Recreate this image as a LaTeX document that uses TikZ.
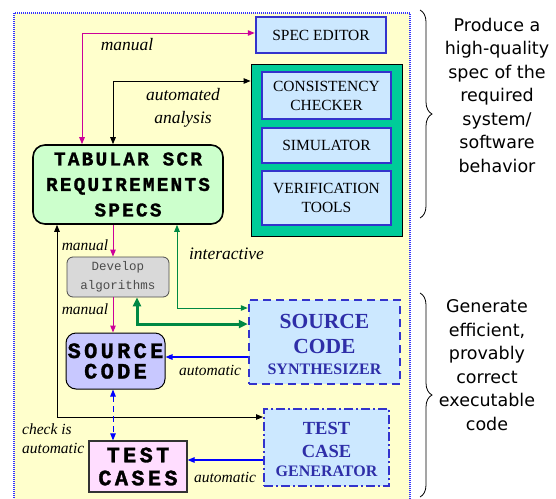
\documentclass[tikz,border=0pt]{standalone}
\usepackage{fontspec}
\setmainfont{Liberation Serif}
\newfontfamily\tabfont{Liberation Mono Bold}[LetterSpace=11, FakeBold=1.2]
\newfontfamily\srcfont{Liberation Mono Bold}[LetterSpace=15, FakeBold=1.4]
\newfontfamily\devfont{Liberation Mono}
\newfontfamily\comic{DejaVu Sans}
\usetikzlibrary{arrows.meta,decorations.pathreplacing}
\definecolor{bgyellow}{HTML}{FFFFCC}
\definecolor{dotblue}{HTML}{3333FF}
\definecolor{boxblue}{HTML}{3333CC}
\definecolor{boxfill}{HTML}{CCE8FF}
\definecolor{toolgreen}{HTML}{00CC99}
\definecolor{tabfill}{HTML}{CCFFCC}
\definecolor{devfill}{HTML}{D9D9D9}
\definecolor{srcfill}{HTML}{C8C8FF}
\definecolor{testfill}{HTML}{FFDDFF}
\definecolor{magarr}{HTML}{CC0099}
\definecolor{grnarr}{HTML}{008844}
\definecolor{bluarr}{HTML}{0000FF}
\definecolor{syntxt}{HTML}{2E2EA8}
\tikzset{
  bluebox/.style={draw=boxblue, line width=2.5pt, fill=boxfill, inner sep=0pt, align=center, font=\fontsize{15.5}{19}\selectfont},
  tip/.style={-{Triangle[length=7pt,width=5.5pt]}},
  tips/.style={{Triangle[length=7pt,width=5.5pt]}-{Triangle[length=7pt,width=5.5pt]}},
  thicktips/.style={{Triangle[length=9pt,width=8pt]}-{Triangle[length=9pt,width=8pt]}},
  lbl/.style={font=\itshape\fontsize{17.5}{21}\selectfont, inner sep=0pt},
  slbl/.style={font=\itshape\fontsize{15.5}{19}\selectfont, inner sep=0pt},
  syn/.style={text=syntxt, font=\bfseries, anchor=base, inner sep=0pt},
  side/.style={font=\comic\fontsize{17.5}{23.5}\selectfont, align=center, inner sep=0pt},
}
\begin{document}
\begin{tikzpicture}[x=1pt,y=-1pt]
\useasboundingbox (0,0) rectangle (556,498);
% outer frame
\path[fill=bgyellow] (14,13) rectangle (410,505);
\draw[dotblue, line width=1.5pt, dash pattern=on 1pt off 1pt] (14,13) rectangle (410,505);

% boxes
\node[bluebox, minimum width=130pt, minimum height=36pt] (spec) at (321,35) {SPEC EDITOR};
\node[draw=black, line width=0.8pt, fill=toolgreen, minimum width=151pt, minimum height=172pt, inner sep=0pt] (tools) at (326.5,150) {};
\node[bluebox, minimum width=129pt, minimum height=47pt] (cc) at (326.5,95.5) {CONSISTENCY\\CHECKER};
\node[bluebox, minimum width=129pt, minimum height=35pt] (sim) at (326.5,145.5) {SIMULATOR};
\node[bluebox, minimum width=129pt, minimum height=54pt] (ver) at (326.5,198) {VERIFICATION\\TOOLS};

\node[draw=black, line width=1.6pt, fill=tabfill, rounded corners=12pt, minimum width=190pt, minimum height=79pt, inner sep=0pt, align=center, font=\tabfont\fontsize{19.5}{25.5}\selectfont] (tab) at (128,184.5) {TABULAR SCR\\REQUIREMENTS\\SPECS};

\node[draw=black!70, line width=0.8pt, fill=devfill, rounded corners=6pt, minimum width=102pt, minimum height=40pt, inner sep=0pt, align=center, text=black!70, font=\devfont\fontsize{12.5}{19}\selectfont] (dev) at (118,277) {Develop\\algorithms};

\node[draw=black, line width=1pt, fill=srcfill, rounded corners=10pt, minimum width=99pt, minimum height=56pt, inner sep=0pt, align=center, font=\srcfont\fontsize{22}{20.5}\selectfont] (src) at (115.5,361) {SOURCE\\CODE};

\node[draw=black!80, line width=1.2pt, fill=testfill, minimum width=98pt, minimum height=51pt, inner sep=0pt, align=center, font=\srcfont\fontsize{22}{23}\selectfont] (test) at (138,466.5) {TEST\\CASES};

\node[draw=boxblue, line width=2.5pt, dash pattern=on 8pt off 5pt, fill=boxfill, minimum width=151pt, minimum height=84pt, inner sep=0pt] (synth) at (324.5,342) {};
\node[syn, font=\bfseries\fontsize{21.5}{25}\selectfont] (syn1) at (324.5,328) {SOURCE};
\node[syn, font=\bfseries\fontsize{21.5}{25}\selectfont] (syn2) at (324.5,353) {CODE};
\node[syn, font=\bfseries\fontsize{16}{19}\selectfont] (syn3) at (324.5,374) {SYNTHESIZER};

\node[draw=boxblue, line width=2pt, dash pattern=on 9pt off 3pt on 2pt off 3pt, fill=boxfill, minimum width=125pt, minimum height=77pt, inner sep=0pt] (gen) at (326.5,447.5) {};
\node[syn, font=\bfseries\fontsize{18.5}{22}\selectfont] (gen1) at (326.5,434) {TEST};
\node[syn, font=\bfseries\fontsize{18.5}{22}\selectfont] (gen2) at (326.5,457) {CASE};
\node[syn, font=\bfseries\fontsize{16}{19}\selectfont] (gen3) at (326.5,476) {GENERATOR};

% helper coordinates
\coordinate (m1) at (82,33);
\coordinate (a1) at (113,81);
\coordinate (b1) at (57,417);
\coordinate (mx) at (113,0);
\coordinate (g1) at (177,308);
\coordinate (g2) at (137,324);
\coordinate (s1) at (0,357);
\coordinate (t1) at (0,460);

% connectors
\draw[magarr, line width=1pt, tips] (tab.north -| m1) -- (m1) -- (m1 -| spec.west);
\draw[black, line width=1pt, tips] (tab.north -| a1) -- (a1) -- (a1 -| tools.west);
\draw[black, line width=1pt, tips] (tab.south -| b1) -- (b1) -- (b1 -| gen.west);
\draw[magarr, line width=1pt, tip] (tab.south -| mx) -- (dev.north -| mx);
\draw[magarr, line width=1pt, tip] (dev.south -| mx) -- (src.north -| mx);
\draw[grnarr, line width=1pt, tips] (tab.south -| g1) -- (g1) -- (g1 -| synth.west);
\draw[grnarr, line width=3pt, thicktips] (dev.south -| g2) -- (g2) -- (g2 -| synth.west);
\draw[bluarr, line width=1.2pt, tip] (synth.west |- s1) -- (src.east |- s1);
\draw[bluarr, line width=1pt, tips, dash pattern=on 6pt off 4pt] (src.south -| mx) -- (test.north -| mx);
\draw[bluarr, line width=1.2pt, tip] (gen.west |- t1) -- (test.east |- t1);

% labels
\node[lbl] (l1) at (127,45) {manual};
\node[lbl, align=center, font=\itshape\fontsize{17.5}{22.5}\selectfont] (l2) at (183,108) {automated\\analysis};
\node[slbl] (l3) at (85,245) {manual};
\node[slbl] (l4) at (85,309) {manual};
\node[lbl] (l5) at (226.5,254) {interactive};
\node[slbl] (l6) at (210,370) {automatic};
\node[slbl, align=left, anchor=west, font=\itshape\fontsize{15.5}{19.5}\selectfont] (l7) at (22,438.5) {check is\\automatic};
\node[slbl] (l8) at (225,477) {automatic};

% braces
\draw[black, line width=0.8pt, decorate, decoration={brace, amplitude=12pt}] (420,10) -- (420,218);
\draw[black, line width=0.8pt, decorate, decoration={brace, amplitude=12pt}] (420,293) -- (420,497);

\node[side] (t1txt) at (497,95) {Produce a\\high-quality\\spec of the\\required\\system/\\software\\behavior};
\node[side] (t2txt) at (487,365) {Generate\\efficient,\\provably\\correct\\executable\\code};
\end{tikzpicture}
\end{document}
